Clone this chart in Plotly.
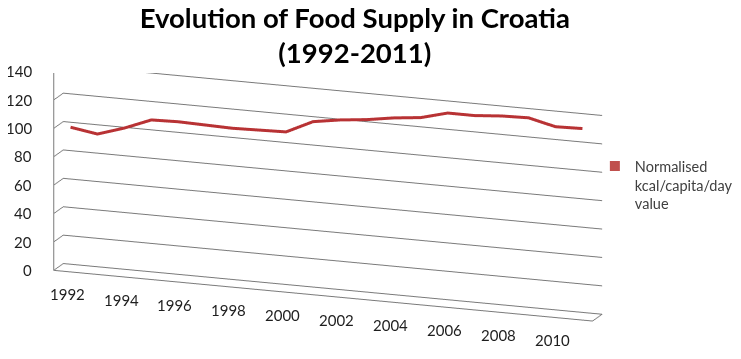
import plotly.graph_objects as go

years = list(range(1992, 2012))
values = [100, 97, 103, 110.5, 111, 110.5, 110, 110.5, 111, 120,
          123, 125, 128, 130, 135, 135, 136.5, 137, 132.5, 133]
label_years = years[::2]
value_ticks = [0, 20, 40, 60, 80, 100, 120, 140]
series_name = "Normalised<br>kcal/capita/day<br>value"
title_text = "Evolution of Food Supply in Croatia<br>(1992-2011)"
series_depth = [0.35] * len(years)

GRID = "#7a7a7a"
TXT = "#1e1e1e"
RED = "#B83234"
x_min, x_max = years[0] - 0.5, years[-1] + 0.5
depth_front = 0

fig = go.Figure()
fig.add_trace(go.Scatter3d(
    x=years, y=series_depth, z=values, mode="lines",
    line=dict(color=RED, width=6), showlegend=False, hoverinfo="skip"))
fig.add_trace(go.Scatter3d(
    x=[None], y=[None], z=[None], mode="markers",
    marker=dict(symbol="square", size=10, color="#C0504D"),
    name=series_name, showlegend=True))

label_font = dict(family="Lato", size=15, color=TXT)
annotations = []
for yr in label_years:
    annotations.append(dict(x=yr, y=depth_front, z=value_ticks[0], text=str(yr),
                            showarrow=False, xanchor="center", yanchor="top",
                            yshift=-12, font=label_font))
for v in value_ticks:
    annotations.append(dict(x=x_min, y=depth_front, z=v, text=str(v),
                            showarrow=False, xanchor="right", yanchor="middle",
                            xshift=-20, font=label_font))

axis_common = dict(showspikes=False, zeroline=False, showbackground=False,
                   title=dict(text=""), showticklabels=False, ticks="")
eye_dir = (0.330, -0.908, 0.259)
D = 1.5
cen = (-0.0630, -0.0740, -0.178)
fig.update_layout(
    width=741, height=359,
    margin=dict(l=0, r=0, t=0, b=0),
    paper_bgcolor="white",
    title=dict(text=title_text, x=0.468, xanchor="center", y=0.945, yanchor="top",
               yref="container",
               font=dict(family="Lato", size=27.5, color="black", weight="bold")),
    legend=dict(x=0.792, y=0.604, xanchor="left", yanchor="top", valign="top",
                font=dict(family="Lato", size=14.5, color="#404040"),
                bgcolor="rgba(0,0,0,0)"),
    scene=dict(
        domain=dict(x=[0, 0.83], y=[0, 0.82]),
        bgcolor="white",
        xaxis=dict(range=[x_min, x_max], showgrid=False, showline=True,
                   linecolor=GRID, linewidth=2, **axis_common),
        yaxis=dict(range=[0, 1], showgrid=False, showline=True,
                   linecolor=GRID, linewidth=2, **axis_common),
        zaxis=dict(range=[value_ticks[0], value_ticks[-1]], tickvals=value_ticks,
                   showgrid=True, gridcolor=GRID, gridwidth=2, showline=True,
                   linecolor=GRID, linewidth=2, **axis_common),
        aspectmode="manual", aspectratio=dict(x=3.90, y=0.19, z=1.40),
        camera=dict(projection=dict(type="orthographic"),
                    eye=dict(x=cen[0] + eye_dir[0] * D, y=cen[1] + eye_dir[1] * D,
                             z=cen[2] + eye_dir[2] * D),
                    center=dict(x=cen[0], y=cen[1], z=cen[2]), up=dict(x=0, y=0, z=1)),
        annotations=annotations,
    ),
)
fig.write_html("out.html", config={"displayModeBar": False})
